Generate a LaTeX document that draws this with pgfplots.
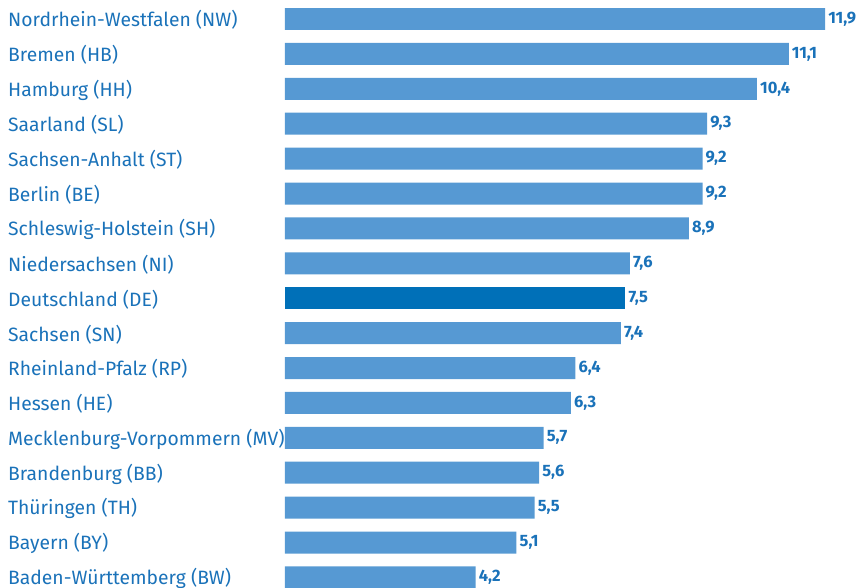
\documentclass[border=0pt]{standalone}
\usepackage{pgfplots}
\pgfplotsset{compat=1.18}
\usepackage{fontspec}
\setmainfont{Fira Sans}
\definecolor{barblue}{HTML}{5699D3}
\definecolor{deblue}{HTML}{0070B8}
\definecolor{txtblue}{HTML}{1A72B9}
\begin{document}
\begin{tikzpicture}
\begin{axis}[
  at={(0,0)}, anchor=north west,
  scale only axis, width=544.6pt, height=593.3pt,
  xbar, bar width=0.63, bar shift=0pt,
  xmin=0, xmax=12, ymin=-0.5, ymax=16.5, y dir=reverse,
  axis line style={draw=none},
  xtick=\empty, ytick={0,...,16}, major tick length=0pt,
  yticklabels={Nordrhein-Westfalen (NW), Bremen (HB), Hamburg (HH), Saarland (SL),
    Sachsen-Anhalt (ST), Berlin (BE), Schleswig-Holstein (SH), Niedersachsen (NI),
    Deutschland (DE), Sachsen (SN), Rheinland-Pfalz (RP), Hessen (HE),
    Mecklenburg-Vorpommern (MV), Brandenburg (BB), Thüringen (TH), Bayern (BY),
    Baden-Württemberg (BW)},
  yticklabel style={anchor=west, xshift=-277pt, yshift=-1.2pt, inner sep=0pt,
    font=\fontsize{19.3}{19.3}\selectfont, text=txtblue},
  nodes near coords,
  nodes near coords style={font=\bfseries\fontsize{16.5}{16.5}\selectfont,
    text=txtblue, inner xsep=3pt},
  /pgf/number format/assume math mode=true,
  /pgf/number format/use comma, /pgf/number format/fixed,
  /pgf/number format/fixed zerofill, /pgf/number format/precision=1,
  clip=false,
]
\addplot[fill=barblue, draw=none] coordinates {
  (11.9,0) (11.1,1) (10.4,2) (9.3,3) (9.2,4) (9.2,5) (8.9,6) (7.6,7)
  (7.4,9) (6.4,10) (6.3,11) (5.7,12) (5.6,13) (5.5,14) (5.1,15) (4.2,16)
};
\addplot[fill=deblue, draw=none] coordinates {(7.5,8)};
\end{axis}
\pgfresetboundingbox
\path[use as bounding box] (-285pt,1.55pt) rectangle (581pt,-586.45pt);
\end{tikzpicture}
\end{document}
